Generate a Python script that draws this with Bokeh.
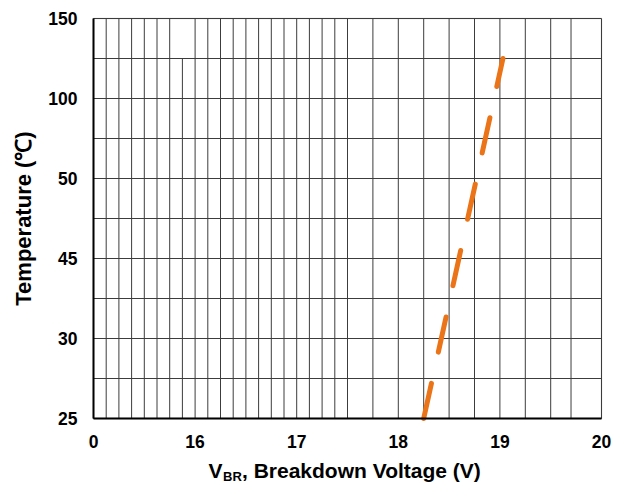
import numpy as np
from bokeh.plotting import figure
from bokeh.models import BoxAnnotation, FixedTicker, Label, LinearAxis, Range1d
from bokeh.embed import file_html
from bokeh.resources import INLINE

# Breakdown voltage against junction temperature
temp_ticks = [25, 30, 45, 50, 100, 150]
volt_ticks = [15, 16, 17, 18, 19, 20]
volt_labels = ["0", "16", "17", "18", "19", "20"]

temperature = [25, 125]
vbr = [18.25, 19.03]

# vertical grid lines (V)
vgrid = [15.0, 15.125, 15.25, 15.375, 15.5, 15.625, 15.75, 16.0, 16.125,
         16.25, 16.375, 16.5, 16.625, 16.75, 16.875, 17.0, 17.125, 17.25,
         17.375, 17.5, 17.75, 18.0, 18.25, 18.5, 18.75, 19.0, 19.25, 19.5,
         19.7, 20.0]
short_vgrid = [15.875]
hgrid = [0, 0.5, 1, 1.5, 2, 2.5, 3, 3.5, 4, 4.5, 5]

# temperature axis is evenly spaced by label, not linear in degrees
tick_pos = list(range(len(temp_ticks)))
temp_pos = np.interp(temperature, temp_ticks, tick_pos)

FONT = "Liberation Sans"
GRID = "#3c3c3c"
W, H = 621, 485

# plot area in canvas pixels
LEFT, RIGHT, TOP, BOTTOM = 93, 601, 18, 418
XMIN, XMAX, YMIN, YMAX = 15, 20, 0, 5
sx = (RIGHT - LEFT) / (XMAX - XMIN)
sy = (BOTTOM - TOP) / (YMAX - YMIN)


def dx(px):
    return XMIN + (px - LEFT) / sx


def dy(py):
    return YMIN + (BOTTOM - py) / sy


# the frame fills the whole canvas; axes are pinned to the plot-area edges
p = figure(width=W, height=H, output_backend="svg", toolbar_location=None,
           x_range=Range1d(dx(0), dx(W)), y_range=Range1d(dy(H), dy(0)),
           x_axis_type=None, y_axis_type=None, min_border=0,
           outline_line_color=None)
p.grid.visible = False
p.background_fill_color = "white"
p.border_fill_color = "white"

p.add_layout(BoxAnnotation(left=XMIN, right=XMAX, bottom=YMIN, top=YMAX,
                           fill_alpha=0, line_color="#8a8a8a", line_width=1.5,
                           level="underlay"))

# grid
p.segment(x0=vgrid, y0=YMIN, x1=vgrid, y1=YMAX, line_color=GRID, line_width=1)
p.segment(x0=short_vgrid, y0=YMIN, x1=short_vgrid, y1=4.5, line_color=GRID, line_width=1)
p.segment(x0=XMIN, y0=hgrid, x1=XMAX, y1=hgrid, line_color=GRID, line_width=1)

xaxis = LinearAxis(fixed_location=YMIN, bounds=(XMIN, XMAX),
                   ticker=FixedTicker(ticks=volt_ticks),
                   major_label_overrides=dict(zip(volt_ticks, volt_labels)))
yaxis = LinearAxis(fixed_location=XMIN, bounds=(YMIN, YMAX),
                   ticker=FixedTicker(ticks=tick_pos),
                   major_label_overrides={i: str(t) for i, t in zip(tick_pos, temp_ticks)})
for ax in (xaxis, yaxis):
    ax.axis_line_color = "black"
    ax.axis_line_width = 2
    ax.major_tick_in = 0
    ax.major_tick_out = 0
    ax.minor_tick_in = 0
    ax.minor_tick_out = 0
    ax.major_label_text_font = FONT
    ax.major_label_text_font_style = "bold"
    ax.major_label_text_font_size = "17.5px"
    ax.major_label_text_color = "black"
    ax.major_label_standoff = 16
p.add_layout(xaxis, "below")
p.add_layout(yaxis, "left")

p.line(vbr, temp_pos, line_color="#EB7418", line_width=5,
       line_dash="36 32", line_cap="round")

# axis titles
p.add_layout(Label(x=dx(23), y=dy(218), text="Temperature (℃)", angle=np.pi / 2,
                   text_align="center", text_baseline="middle",
                   text_font=FONT, text_font_style="bold",
                   text_font_size="22px", text_color="black"))
title_parts = [
    ("V", 208.0, 470.0, "21px"),
    ("BR", 222.5, 475.5, "13px"),
    (", Breakdown Voltage (V)", 241.5, 470.0, "21px"),
]
for txt, px, py, size in title_parts:
    p.add_layout(Label(x=dx(px), y=dy(py), text=txt,
                       text_align="left", text_baseline="alphabetic",
                       text_font=FONT, text_font_style="bold",
                       text_font_size=size, text_color="black"))

open("out.html", "w").write(file_html(p, INLINE))
